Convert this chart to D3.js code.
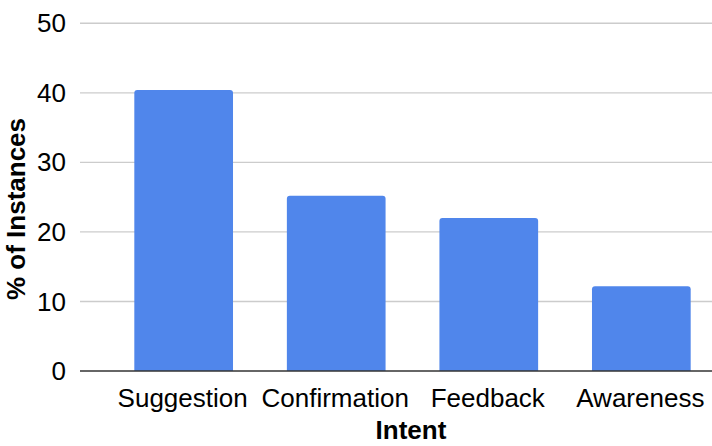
<!DOCTYPE html>
<html>
<head>
<meta charset="utf-8">
<script src="https://cdn.jsdelivr.net/npm/d3@7"></script>
<style>
  body { margin: 0; background: #fff; }
  text { font-family: "Liberation Sans", Arial, sans-serif; fill: #000; }
</style>
</head>
<body>
<script>
var categories = ["Suggestion", "Confirmation", "Feedback", "Awareness"];
var values = [40.4, 25.2, 22.0, 12.2];
var yTicks = [0, 10, 20, 30, 40, 50];

var data = categories.map(function (c, i) {
    return {intent: c, pct: values[i]};
});

var svg = d3.select("body").append("svg").attr("width", 712).attr("height", 446);

var x = d3.scaleBand().domain(categories).range([80, 745])
    .paddingInner(0.353).paddingOuter(0.356);
var y = d3.scaleLinear().domain([0, 50]).range([371, 23.3]);

// gridlines
svg.append("g").selectAll("line")
    .data(yTicks.filter(function (d) { return d > 0; }))
    .enter().append("line")
    .attr("x1", 80).attr("x2", 712)
    .attr("y1", function (d) { return y(d); })
    .attr("y2", function (d) { return y(d); })
    .attr("stroke", "#cccccc").attr("stroke-width", 1.4);

// tick labels
svg.append("g").selectAll("text")
    .data(yTicks)
    .enter().append("text")
    .attr("x", 66)
    .attr("y", function (d) { return y(d); })
    .attr("dy", "0.35em")
    .attr("text-anchor", "end")
    .style("font-size", "26px")
    .text(function (d) { return d; });

// bars with rounded tops
var r = 3;
svg.append("g").selectAll("path")
    .data(data)
    .enter().append("path")
    .attr("fill", "#5086eb")
    .attr("d", function (d) {
        var x0 = x(d.intent), x1 = x0 + x.bandwidth(), y0 = y(0), y1 = y(d.pct);
        return "M" + x0 + "," + y0 + "V" + (y1 + r) + "Q" + x0 + "," + y1 + " " + (x0 + r) + "," + y1 +
            "H" + (x1 - r) + "Q" + x1 + "," + y1 + " " + x1 + "," + (y1 + r) + "V" + y0 + "Z";
    });

// baseline
svg.append("line")
    .attr("x1", 80).attr("x2", 712)
    .attr("y1", y(0)).attr("y2", y(0))
    .attr("stroke", "#333333").attr("stroke-width", 1.6);

// category labels
svg.append("g").selectAll("text")
    .data(categories)
    .enter().append("text")
    .attr("x", function (d) { return x(d) + x.bandwidth() / 2 - 1; })
    .attr("y", 406.5)
    .attr("text-anchor", "middle")
    .style("font-size", "26px")
    .text(function (d) { return d; });

// axis titles
svg.append("text")
    .attr("x", 411).attr("y", 439)
    .attr("text-anchor", "middle")
    .style("font-size", "26px").style("font-weight", "bold")
    .text("Intent");

svg.append("text")
    .attr("transform", "translate(24.5,209) rotate(-90)")
    .attr("text-anchor", "middle")
    .style("font-size", "26px").style("font-weight", "bold")
    .text("% of Instances");
</script>
</body>
</html>
